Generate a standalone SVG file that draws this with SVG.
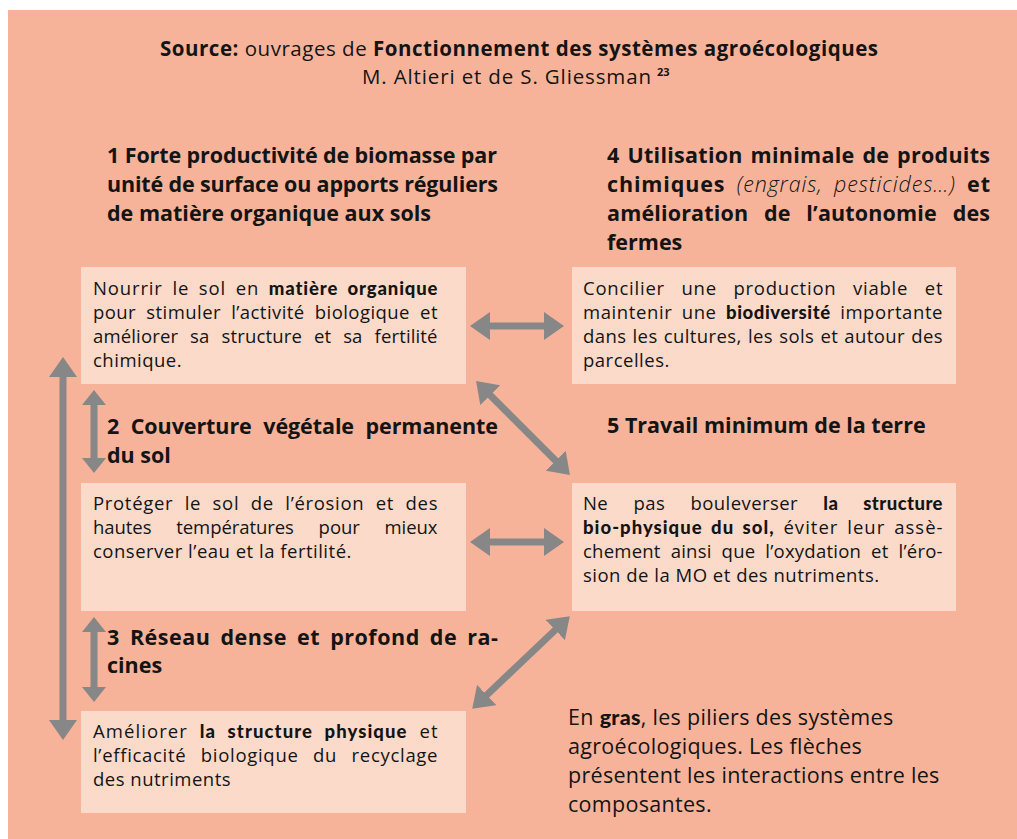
<svg xmlns="http://www.w3.org/2000/svg" width="1017" height="839" viewBox="0 0 1017 839">
<style>
text{font-family:"Open Sans",Lato,"Liberation Sans",sans-serif;fill:#141414}
.body{font-size:18.5px;letter-spacing:0.5px}
.hd{font-size:21.5px;font-weight:700}
.blk{font-family:Lato,"Open Sans",sans-serif;font-weight:900}
.lg{font-size:21.5px;letter-spacing:0.3px}
.box{fill:#FCDACA}
.conn{stroke:#878787;stroke-width:7;fill:none}
</style>
<defs>
<marker id="hb" markerUnits="userSpaceOnUse" markerWidth="20" markerHeight="28" viewBox="0 0 20 28" refX="1" refY="14" orient="auto-start-reverse"><path d="M0,0 L20,14 L0,28 Z" fill="#878787"/></marker>
<marker id="hs" markerUnits="userSpaceOnUse" markerWidth="15" markerHeight="24" viewBox="0 0 15 24" refX="1" refY="12" orient="auto-start-reverse"><path d="M0,0 L15,12 L0,24 Z" fill="#878787"/></marker>
</defs>
<rect x="8" y="10" width="1009" height="829" fill="#F6B39A"/>

<g id="title">
<text x="519" y="56" text-anchor="middle" font-size="20.5" textLength="718" lengthAdjust="spacing"><tspan font-weight="700">Source:</tspan> ouvrages de <tspan font-weight="700">Fonctionnement des systèmes agroécologiques</tspan></text>
<text x="362" y="84" font-size="20.5" textLength="289" lengthAdjust="spacing">M. Altieri et de S. Gliessman</text>
<text x="657" y="76" font-size="11" font-weight="700">23</text>
</g>

<g id="heading1">
<text class="hd" x="107" y="163" textLength="390" lengthAdjust="spacing">1 Forte productivité de biomasse par</text>
<text class="hd" x="107" y="192" textLength="391" lengthAdjust="spacing">unité de surface ou apports réguliers</text>
<text class="hd" x="107" y="221">de matière organique aux sols</text>
</g>

<g id="heading4">
<text class="hd" x="607" y="163" textLength="383" lengthAdjust="spacing" word-spacing="2">4 Utilisation minimale de produits</text>
<text class="hd" x="607" y="192" textLength="383" lengthAdjust="spacing" word-spacing="5">chimiques <tspan font-weight="300" font-style="italic">(engrais, pesticides…)</tspan> et</text>
<text class="hd" x="607" y="221" textLength="383" lengthAdjust="spacing" word-spacing="10">amélioration de l’autonomie des</text>
<text class="hd" x="607" y="250">fermes</text>
</g>

<g id="box1">
<rect class="box" x="81" y="267" width="385" height="117"/>
<text class="body" x="93" y="295" textLength="345" lengthAdjust="spacing" word-spacing="4">Nourrir le sol en <tspan class="blk">matière organique</tspan></text>
<text class="body" x="93" y="319" textLength="345" lengthAdjust="spacing" word-spacing="5">pour stimuler l’activité biologique et</text>
<text class="body" x="93" y="343" textLength="345" lengthAdjust="spacing" word-spacing="7">améliorer sa structure et sa fertilité</text>
<text class="body" x="93" y="367">chimique.</text>
</g>

<g id="box4">
<rect class="box" x="572" y="267" width="384" height="117"/>
<text class="body" x="583" y="295" textLength="360" lengthAdjust="spacing" word-spacing="11">Concilier une production viable et</text>
<text class="body" x="583" y="319" textLength="360" lengthAdjust="spacing" word-spacing="4">maintenir une <tspan class="blk">biodiversité</tspan> importante</text>
<text class="body" x="583" y="343" textLength="360" lengthAdjust="spacing" word-spacing="1">dans les cultures, les sols et autour des</text>
<text class="body" x="583" y="367">parcelles.</text>
</g>

<g id="heading2">
<text class="hd" x="107" y="434" textLength="391" lengthAdjust="spacing" word-spacing="6">2 Couverture végétale permanente</text>
<text class="hd" x="107" y="463">du sol</text>
</g>

<g id="heading5">
<text class="hd" x="607" y="433">5 Travail minimum de la terre</text>
</g>

<g id="box2">
<rect class="box" x="81" y="483" width="385" height="128"/>
<text class="body" x="93" y="510" textLength="345" lengthAdjust="spacing" word-spacing="6">Protéger le sol de l’érosion et des</text>
<text class="body" x="93" y="534" textLength="345" lengthAdjust="spacing" word-spacing="20">hautes températures pour mieux</text>
<text class="body" x="93" y="558">conserver l’eau et la fertilité.</text>
</g>

<g id="box5">
<rect class="box" x="572" y="483" width="384" height="128"/>
<text class="body" x="583" y="510" textLength="360" lengthAdjust="spacing" word-spacing="20">Ne pas bouleverser <tspan class="blk">la structure</tspan></text>
<text class="body" x="583" y="534" textLength="360" lengthAdjust="spacing" word-spacing="3"><tspan class="blk">bio-physique du sol,</tspan> éviter leur assè-</text>
<text class="body" x="583" y="558" textLength="360" lengthAdjust="spacing" word-spacing="5">chement ainsi que l’oxydation et l’éro-</text>
<text class="body" x="583" y="582">sion de la MO et des nutriments.</text>
</g>

<g id="heading3">
<text class="hd" x="107" y="645" textLength="391" lengthAdjust="spacing" word-spacing="4">3 Réseau dense et profond de ra-</text>
<text class="hd" x="107" y="673">cines</text>
</g>

<g id="box3">
<rect class="box" x="81" y="711" width="385" height="102"/>
<text class="body" x="93" y="738" textLength="345" lengthAdjust="spacing" word-spacing="6">Améliorer <tspan class="blk">la structure physique</tspan> et</text>
<text class="body" x="93" y="762" textLength="345" lengthAdjust="spacing" word-spacing="9">l’efficacité biologique du recyclage</text>
<text class="body" x="93" y="786">des nutriments</text>
</g>

<g id="legend">
<text class="lg" x="568" y="725">En <tspan class="blk">gras</tspan>, les piliers des systèmes</text>
<text class="lg" x="568" y="754">agroécologiques. Les flèches</text>
<text class="lg" x="568" y="783">présentent les interactions entre les</text>
<text class="lg" x="568" y="812">composantes.</text>
</g>

<g id="connectors">
<line class="conn" x1="63" y1="376" x2="63" y2="721" marker-start="url(#hb)" marker-end="url(#hb)"/>
<line class="conn" x1="94" y1="404" x2="94" y2="459" marker-start="url(#hs)" marker-end="url(#hs)"/>
<line class="conn" x1="94" y1="631" x2="94" y2="688" marker-start="url(#hs)" marker-end="url(#hs)"/>
<line class="conn" x1="489" y1="326" x2="545" y2="326" marker-start="url(#hb)" marker-end="url(#hb)"/>
<line class="conn" x1="489" y1="542" x2="545" y2="542" marker-start="url(#hb)" marker-end="url(#hb)"/>
<line class="conn" x1="489.5" y1="394.5" x2="556.5" y2="461.5" marker-start="url(#hb)" marker-end="url(#hb)"/>
<line class="conn" x1="556" y1="629.3" x2="486" y2="695.7" marker-start="url(#hb)" marker-end="url(#hb)"/>
</g>
</svg>
